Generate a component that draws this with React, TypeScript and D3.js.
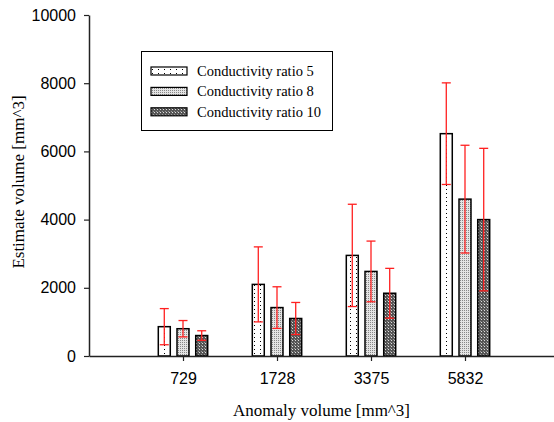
import { useEffect, useRef } from "react";
import * as d3 from "d3";

const categories = ["729", "1728", "3375", "5832"];
const seriesNames = ["Conductivity ratio 5", "Conductivity ratio 8", "Conductivity ratio 10"];
const means5 = [860, 2100, 2950, 6520];
const sd5 = [530, 1100, 1500, 1490];
const means8 = [800, 1420, 2480, 4600];
const sd8 = [240, 610, 890, 1580];
const means10 = [600, 1100, 1840, 4000];
const sd10 = [140, 470, 730, 2090];
const yTicks = [0, 2000, 4000, 6000, 8000, 10000];

const seriesMeans = [means5, means8, means10];
const seriesSd = [sd5, sd8, sd10];
const patternIds = ["pat5", "pat8", "pat10"];

export default function App() {
  const svgRef = useRef<SVGSVGElement>(null);

  useEffect(() => {
    const svg = d3.select(svgRef.current);
    svg.selectAll("*").remove();

    const width = 554;
    const height = 422;
    const left = 89;
    const top = 15;
    const bottom = 356;

    // patterns for the bar fills
    const defs = svg.append("defs");
    const p1 = defs.append("pattern").attr("id", "pat5").attr("patternUnits", "userSpaceOnUse")
      .attr("width", 6).attr("height", 4);
    p1.append("rect").attr("width", 6).attr("height", 4).attr("fill", "#fff");
    p1.append("rect").attr("x", 2).attr("y", 1).attr("width", 1).attr("height", 1).attr("fill", "#000");

    const p2 = defs.append("pattern").attr("id", "pat8").attr("patternUnits", "userSpaceOnUse")
      .attr("width", 2).attr("height", 2);
    p2.append("rect").attr("width", 2).attr("height", 2).attr("fill", "#e4e4e4");
    p2.append("rect").attr("width", 1).attr("height", 1).attr("fill", "#888");

    const p3 = defs.append("pattern").attr("id", "pat10").attr("patternUnits", "userSpaceOnUse")
      .attr("width", 3).attr("height", 3);
    p3.append("rect").attr("width", 3).attr("height", 3).attr("fill", "#555");
    p3.append("rect").attr("x", 1).attr("y", 1).attr("width", 1).attr("height", 1).attr("fill", "#ddd");
    p3.append("rect").attr("x", 0).attr("y", 0).attr("width", 1).attr("height", 1).attr("fill", "#999");

    const x = d3.scaleLinear().domain([0, categories.length + 1]).range([left, 559]);
    const y = d3.scaleLinear().domain([0, 10000]).range([bottom, top]);
    const inner = d3.scaleBand().domain(seriesNames).range([-24.7, 24.7]).paddingInner(0.36);

    // bars
    seriesNames.forEach((name, si) => {
      svg.append("g")
        .selectAll("rect")
        .data(seriesMeans[si])
        .join("rect")
        .attr("x", (d, i) => x(i + 1) + (inner(name) as number))
        .attr("y", (d) => y(d))
        .attr("width", inner.bandwidth())
        .attr("height", (d) => bottom - y(d))
        .attr("fill", `url(#${patternIds[si]})`)
        .attr("stroke", "#000")
        .attr("stroke-width", 1.5);
    });

    // error bars
    const errLayer = svg.append("g").attr("stroke", "#ff2020").attr("stroke-width", 1.3).attr("fill", "none");
    seriesNames.forEach((name, si) => {
      seriesMeans[si].forEach((m, i) => {
        const cx = x(i + 1) + (inner(name) as number) + inner.bandwidth() / 2;
        const hi = y(m + seriesSd[si][i]);
        const lo = y(m - seriesSd[si][i]);
        errLayer.append("line").attr("x1", cx).attr("x2", cx).attr("y1", hi).attr("y2", lo);
        errLayer.append("line").attr("x1", cx - 4.5).attr("x2", cx + 4.5).attr("y1", hi).attr("y2", hi);
        errLayer.append("line").attr("x1", cx - 4.5).attr("x2", cx + 4.5).attr("y1", lo).attr("y2", lo);
      });
    });

    // axes
    const yAxis = svg.append("g")
      .attr("transform", `translate(${left},0)`)
      .call(d3.axisLeft(y).tickValues(yTicks).tickFormat(d3.format("d")).tickSize(5).tickSizeOuter(0).tickPadding(8));
    yAxis.select(".domain").attr("stroke", "#222").attr("stroke-width", 1.5);
    yAxis.selectAll(".tick line").attr("stroke", "#222").attr("stroke-width", 1.2);
    yAxis.selectAll("text")
      .attr("font-family", "'Liberation Sans', Arial, sans-serif")
      .attr("font-size", 16)
      .attr("fill", "#000");

    const xAxis = svg.append("g")
      .attr("transform", `translate(0,${bottom})`)
      .call(
        d3.axisBottom(x)
          .tickValues(categories.map((c, i) => i + 1))
          .tickFormat((d) => categories[(d as number) - 1])
          .tickSize(5)
          .tickSizeOuter(0)
          .tickPadding(12)
      );
    xAxis.select(".domain").attr("stroke", "#222").attr("stroke-width", 1.5);
    xAxis.selectAll(".tick line").attr("stroke", "#222").attr("stroke-width", 1.2);
    xAxis.selectAll("text")
      .attr("font-family", "'Liberation Sans', Arial, sans-serif")
      .attr("font-size", 16)
      .attr("fill", "#000");

    // axis titles
    svg.append("text")
      .attr("x", (left + width) / 2)
      .attr("y", 416)
      .attr("text-anchor", "middle")
      .attr("font-family", "'Liberation Serif', 'Times New Roman', serif")
      .attr("font-size", 17)
      .text("Anomaly volume [mm^3]");

    svg.append("text")
      .attr("transform", `translate(24,182) rotate(-90)`)
      .attr("text-anchor", "middle")
      .attr("font-family", "'Liberation Serif', 'Times New Roman', serif")
      .attr("font-size", 17)
      .text("Estimate volume [mm^3]");

    // legend
    const legend = svg.append("g");
    legend.append("rect")
      .attr("x", 141.5).attr("y", 51.5).attr("width", 191).attr("height", 79)
      .attr("fill", "#fff").attr("stroke", "#000").attr("stroke-width", 1);
    seriesNames.forEach((name, si) => {
      const cy = 71 + si * 20.4;
      legend.append("rect")
        .attr("x", 151).attr("y", cy - 4).attr("width", 36).attr("height", 8)
        .attr("fill", `url(#${patternIds[si]})`).attr("stroke", "#000").attr("stroke-width", 1.2);
      legend.append("text")
        .attr("x", 197).attr("y", cy + 5)
        .attr("font-family", "'Liberation Serif', 'Times New Roman', serif")
        .attr("font-size", 14.5)
        .text(name);
    });

    svg.attr("width", width).attr("height", height);
  }, []);

  return (
    <svg
      ref={svgRef}
      width={554}
      height={422}
      style={{ position: "absolute", left: 0, top: 0, background: "#fff" }}
    />
  );
}
